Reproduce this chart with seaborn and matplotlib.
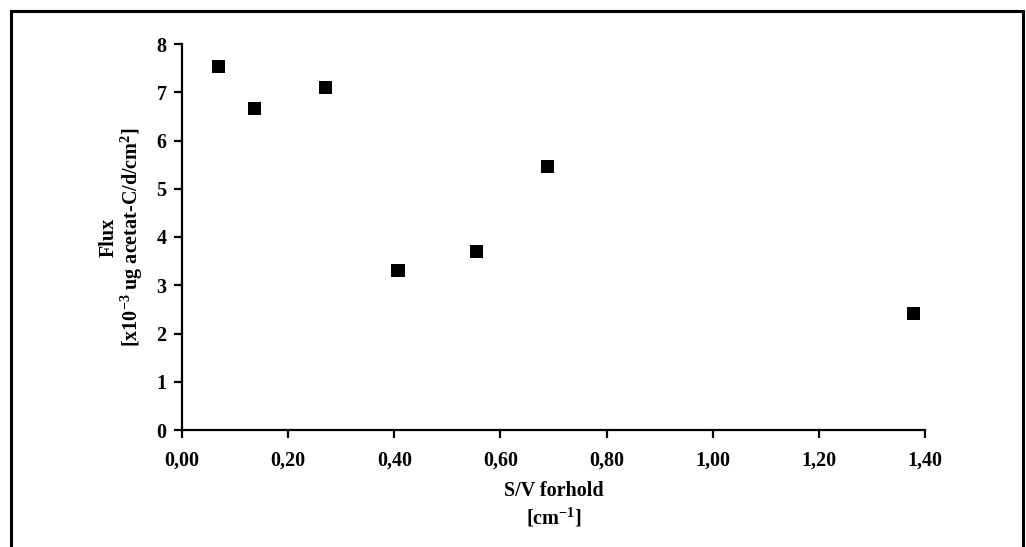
import matplotlib
matplotlib.use("Agg")
import matplotlib.pyplot as plt
import seaborn as sns
import pandas as pd
from matplotlib.patches import Rectangle
from matplotlib.ticker import FixedLocator, FuncFormatter

sv_ratio = [0.068, 0.136, 0.271, 0.407, 0.554, 0.689, 1.378]
flux = [7.54, 6.67, 7.10, 3.30, 3.69, 5.47, 2.42]
x_ticks = [0.0, 0.2, 0.4, 0.6, 0.8, 1.0, 1.2, 1.4]
y_ticks = [0, 1, 2, 3, 4, 5, 6, 7, 8]

sns.set_theme(style="white")
plt.rcParams['font.family'] = ['Liberation Serif', 'DejaVu Serif']
plt.rcParams['font.weight'] = 'bold'
plt.rcParams['text.color'] = 'black'
plt.rcParams['axes.labelcolor'] = 'black'
plt.rcParams['mathtext.fontset'] = 'custom'
plt.rcParams['mathtext.rm'] = 'Liberation Serif:bold'
plt.rcParams['mathtext.it'] = 'Liberation Serif:bold'
plt.rcParams['mathtext.bf'] = 'Liberation Serif:bold'
plt.rcParams['mathtext.default'] = 'rm'

df = pd.DataFrame({"sv": sv_ratio, "flux": flux})

fig = plt.figure(figsize=(10.26, 5.47), dpi=100)
ax = fig.add_axes([182/1026, 1 - 430/547, (925-182)/1026, (430-44)/547])

sns.scatterplot(data=df, x="sv", y="flux", marker="s", s=88, color="black",
                edgecolor="none", linewidth=0, ax=ax, zorder=3, clip_on=False)

ax.set_xlim(0, 1.4)
ax.set_ylim(0, 8)
ax.xaxis.set_major_locator(FixedLocator(x_ticks))
ax.yaxis.set_major_locator(FixedLocator(y_ticks))
ax.xaxis.set_major_formatter(FuncFormatter(lambda v, p: f"{v:.2f}".replace(".", ",")))
ax.yaxis.set_major_formatter(FuncFormatter(lambda v, p: f"{int(round(v))}"))

for side in ["top", "right"]:
    ax.spines[side].set_visible(False)
for side in ["left", "bottom"]:
    ax.spines[side].set_linewidth(1.6)
    ax.spines[side].set_color("black")

ax.tick_params(axis="both", direction="out", length=6, width=1.6, color="black",
               labelsize=14.5, labelcolor="black", left=True, bottom=True)
ax.tick_params(axis="x", pad=9)
ax.tick_params(axis="y", pad=5)
for lab in ax.get_xticklabels() + ax.get_yticklabels():
    lab.set_fontweight("bold")

ax.set_xlabel("S/V forhold\n[cm$^{-1}$]", fontsize=14.5, fontweight="bold",
              labelpad=7, linespacing=1.3, color="black")
ax.set_ylabel("Flux\n[x10$^{-3}$ ug acetat-C/d/cm$^{2}$]", fontsize=14.5,
              fontweight="bold", labelpad=8, linespacing=1.05, color="black")

fig.patches.append(Rectangle((11/1026, -0.05), (1023-11)/1026, 1.05 - 11/547,
                             transform=fig.transFigure, fill=False,
                             edgecolor="black", linewidth=2.2, zorder=10))

fig.savefig("out.png", dpi=100)
